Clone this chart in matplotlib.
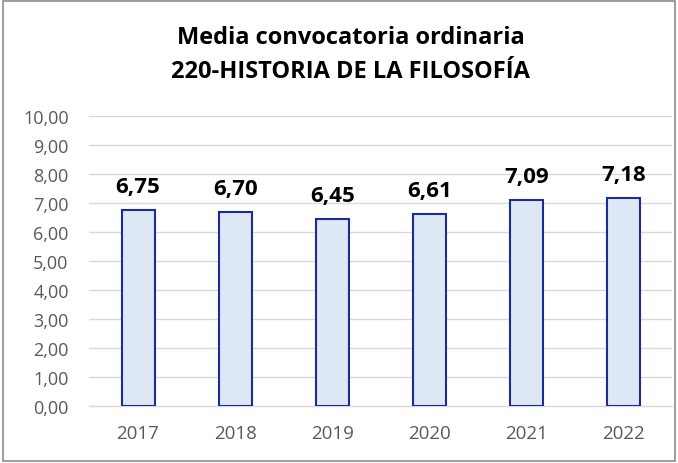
import matplotlib.pyplot as plt
from matplotlib.patches import Rectangle

years = ["2017", "2018", "2019", "2020", "2021", "2022"]
media = [6.75, 6.70, 6.45, 6.61, 7.09, 7.18]
y_ticks = [0, 1, 2, 3, 4, 5, 6, 7, 8, 9, 10]

plt.rcParams['font.family'] = ['Open Sans', 'DejaVu Sans']


def fmt(v):
    return f"{v:.2f}".replace(".", ",")


fig = plt.figure(figsize=(6.78, 4.64), dpi=100)
ax = fig.add_axes([0.132, 0.1228, 0.859, 0.625])

x = range(len(years))
ax.bar(x, media, width=0.34, color="#DEE8F5", edgecolor="#1A2BA0", linewidth=1.5, zorder=3)

for xi, v in zip(x, media):
    ax.text(xi, v + 0.45, fmt(v), ha="center", va="bottom",
            fontsize=16, fontweight="bold", color="black")

ax.set_xlim(-0.5, len(years) - 0.5)
ax.set_ylim(0, 10)
ax.set_yticks(y_ticks)
ax.set_yticklabels([fmt(t) for t in y_ticks], fontsize=13, color="#595959")
ax.set_xticks(list(x))
ax.set_xticklabels(years, fontsize=13.5, color="#595959")
ax.tick_params(axis="both", length=0)
ax.tick_params(axis="x", pad=13)
ax.tick_params(axis="y", pad=15)
ax.grid(axis="y", color="#D9D9D9", linewidth=1, zorder=0)
for s in ["top", "right", "left"]:
    ax.spines[s].set_visible(False)
ax.spines["bottom"].set_color("#D9D9D9")
ax.spines["bottom"].set_linewidth(1)

fig.text(0.517, 0.918, "Media convocatoria ordinaria", ha="center", va="center",
         fontsize=17, fontweight="bold")
fig.text(0.517, 0.845, "220-HISTORIA DE LA FILOSOFÍA", ha="center", va="center",
         fontsize=17, fontweight="bold")

fig.patches.append(Rectangle((0.004, 0.004), 0.992, 0.992, transform=fig.transFigure,
                             fill=False, edgecolor="#8C8C8C", linewidth=1.2))

fig.savefig("out.png", dpi=100)
